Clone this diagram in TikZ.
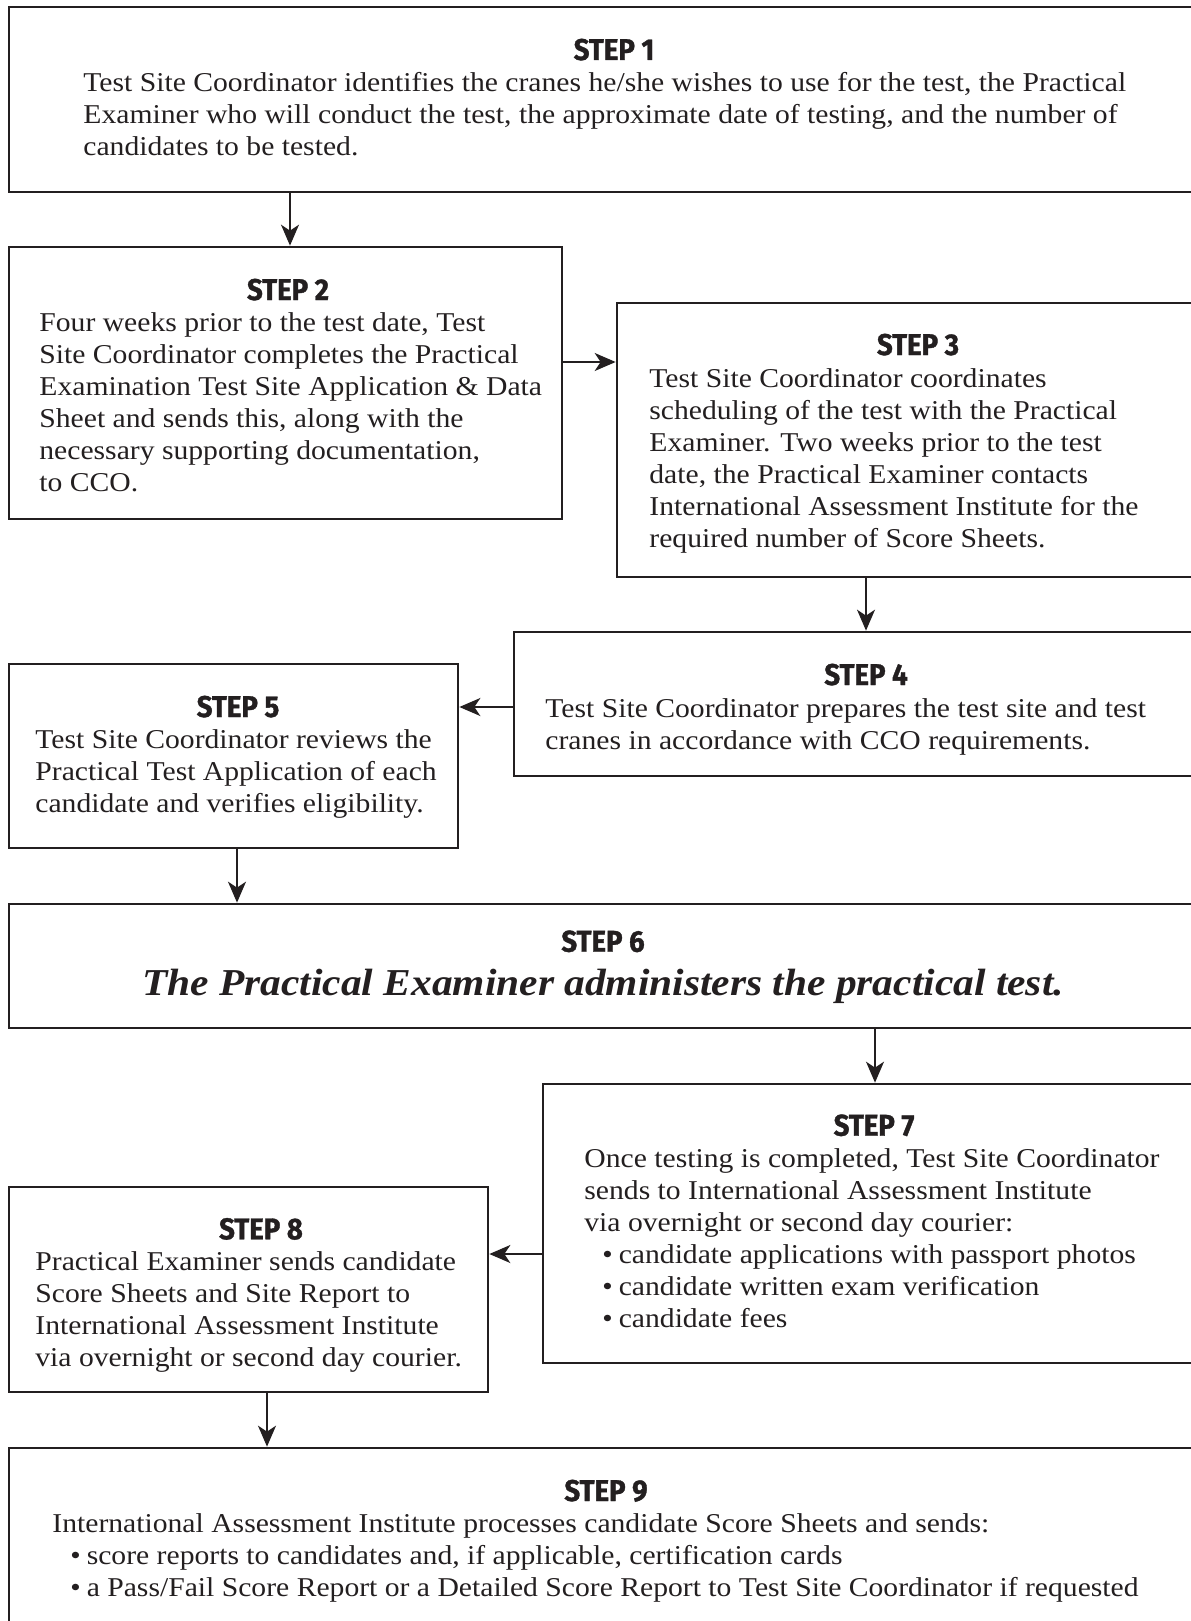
\documentclass[tikz,border=0pt]{standalone}
\usepackage{fontspec}
\setmainfont[FakeStretch=1.09]{Liberation Serif}
\newfontfamily\stepfont[FakeStretch=0.92,FakeBold=1.2]{Fira Sans}
\usetikzlibrary{arrows.meta,fit}
\definecolor{ink}{RGB}{35,31,32}
\tikzset{
  box/.style={draw=ink, line width=1.35pt, inner sep=0pt, rectangle},
  heading/.style={anchor=base, inner sep=0pt, text=ink, font=\stepfont\bfseries\fontsize{15}{16}\selectfont},
  body/.style={anchor=base west, inner sep=0pt, text=ink, font=\fontsize{13.6}{16}\selectfont},
  arr/.style={draw=ink, line width=1pt, -{Stealth[length=10.5pt,width=9pt,inset=3pt]}},
}
\newcommand{\bul}{\hspace*{9pt}•\hspace{3pt}}
\begin{document}
\begin{tikzpicture}[x=0.5pt,y=-0.5pt]
\useasboundingbox (0,0) rectangle (1190,1621);
\fill[white] (0,0) rectangle (1190,1621);

% boxes
\node[box, fit={(9,7) (1200,192)}] (b1) {};
\node[box, fit={(9,247) (562,519)}] (b2) {};
\node[box, fit={(617,303) (1200,577)}] (b3) {};
\node[box, fit={(514,632) (1200,776)}] (b4) {};
\node[box, fit={(9,664) (458,848)}] (b5) {};
\node[box, fit={(9,904) (1200,1028)}] (b6) {};
\node[box, fit={(543,1084) (1200,1363)}] (b7) {};
\node[box, fit={(9,1187) (488,1392)}] (b8) {};
\node[box, fit={(9,1448) (1200,1640)}] (b9) {};

% headings
\node[heading] (h1) at (614,60) {STEP 1};
\node[heading] (h2) at (288,300) {STEP 2};
\node[heading] (h3) at (918,355) {STEP 3};
\node[heading] (h4) at (866,685) {STEP 4};
\node[heading] (h5) at (238,717) {STEP 5};
\node[heading] (h6) at (603,951.7) {STEP 6};
\node[heading] (h7) at (874,1135.7) {STEP 7};
\node[heading] (h8) at (261,1239.3) {STEP 8};
\node[heading] (h9) at (606,1501) {STEP 9};

% bodies
\node[body] (t1) at (83,91.7) {\begin{tabular}[t]{@{}l@{}}
Test Site Coordinator identifies the cranes he/she wishes to use for the test, the Practical\\
Examiner who will conduct the test, the approximate date of testing, and the number of\\
candidates to be tested.\end{tabular}};

\node[body] (t2) at (39,331.7) {\begin{tabular}[t]{@{}l@{}}
Four weeks prior to the test date, Test\\
Site Coordinator completes the Practical\\
Examination Test Site Application \& Data\\
Sheet and sends this, along with the\\
necessary supporting documentation,\\
to CCO.\end{tabular}};

\node[body] (t3) at (649,387) {\begin{tabular}[t]{@{}l@{}}
Test Site Coordinator coordinates\\
scheduling of the test with the Practical\\
Examiner. Two weeks prior to the test\\
date, the Practical Examiner contacts\\
International Assessment Institute for the\\
required number of Score Sheets.\end{tabular}};

\node[body] (t4) at (545,717) {\begin{tabular}[t]{@{}l@{}}
Test Site Coordinator prepares the test site and test\\
cranes in accordance with CCO requirements.\end{tabular}};

\node[body] (t5) at (35,748) {\begin{tabular}[t]{@{}l@{}}
Test Site Coordinator reviews the\\
Practical Test Application of each\\
candidate and verifies eligibility.\end{tabular}};

\node[anchor=base, inner sep=0pt, text=ink, font=\bfseries\itshape\fontsize{19}{22}\selectfont] (t6) at (603,995)
  {The Practical Examiner administers the practical test.};

\node[body] (t7) at (584,1167.7) {\begin{tabular}[t]{@{}l@{}}
Once testing is completed, Test Site Coordinator\\
sends to International Assessment Institute\\
via overnight or second day courier:\\
\bul candidate applications with passport photos\\
\bul candidate written exam verification\\
\bul candidate fees\end{tabular}};

\node[body] (t8) at (35,1270.7) {\begin{tabular}[t]{@{}l@{}}
Practical Examiner sends candidate\\
Score Sheets and Site Report to\\
International Assessment Institute\\
via overnight or second day courier.\end{tabular}};

\node[body] (t9) at (52,1532) {\begin{tabular}[t]{@{}l@{}}
International Assessment Institute processes candidate Score Sheets and sends:\\
\bul score reports to candidates and, if applicable, certification cards\\
\bul a Pass/Fail Score Report or a Detailed Score Report to Test Site Coordinator if requested\end{tabular}};

% connectors
\coordinate (x12) at (290,0);
\coordinate (y23) at (0,362);
\coordinate (x34) at (866,0);
\coordinate (y45) at (0,707);
\coordinate (x56) at (237,0);
\coordinate (x67) at (875,0);
\coordinate (y78) at (0,1254);
\coordinate (x89) at (267,0);
\draw[arr] (x12 |- b1.south) -- (x12 |- b2.north);
\draw[arr] (b2.east |- y23) -- (b3.west |- y23);
\draw[arr] (x34 |- b3.south) -- (x34 |- b4.north);
\draw[arr] (b4.west |- y45) -- (b5.east |- y45);
\draw[arr] (x56 |- b5.south) -- (x56 |- b6.north);
\draw[arr] (x67 |- b6.south) -- (x67 |- b7.north);
\draw[arr] (b7.west |- y78) -- (b8.east |- y78);
\draw[arr] (x89 |- b8.south) -- (x89 |- b9.north);
\end{tikzpicture}
\end{document}
